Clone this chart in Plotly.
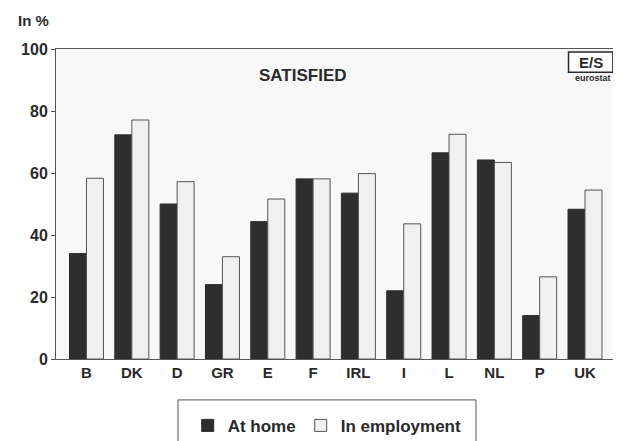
import plotly.graph_objects as go

countries = ["B", "DK", "D", "GR", "E", "F", "IRL", "I", "L", "NL", "P", "UK"]
at_home = [34, 72.3, 50, 24, 44.3, 58.1, 53.5, 22, 66.5, 64.2, 14, 48.3]
in_employment = [58.3, 77.1, 57.2, 33, 51.6, 58.1, 59.8, 43.6, 72.5, 63.4, 26.5, 54.5]
y_ticks = [0, 20, 40, 60, 80, 100]

font = "Liberation Sans, Arial, sans-serif"
ink = "#2a2a2a"

fig = go.Figure()
fig.add_trace(go.Bar(x=countries, y=at_home, name="At home",
                     marker=dict(color="#2e2e2e", line=dict(color="#2a2a2a", width=1))))
fig.add_trace(go.Bar(x=countries, y=in_employment, name="In employment",
                     marker=dict(color="#f0f0f0", line=dict(color="#555", width=1))))

# page has an 8px body margin, so the figure is 8px smaller and margins shifted
fig.update_layout(
    width=613, height=433,
    margin=dict(l=48, r=7, t=41, b=82, autoexpand=False),
    paper_bgcolor="white", plot_bgcolor="#f8f8f8",
    barmode="group", bargap=0.25, bargroupgap=0,
    font=dict(family=font, size=15, color=ink, weight="bold"),
    showlegend=True,
    legend=dict(orientation="h", x=0.486, xanchor="center",
                yref="container", y=0.035, yanchor="middle",
                borderwidth=0, bgcolor="rgba(0,0,0,0)",
                font=dict(size=17, color=ink, weight="bold"), traceorder="normal",
                itemwidth=30),
    xaxis=dict(range=[-0.673, 11.64], showline=True, linecolor="#555", linewidth=1,
               mirror=True, ticks="", tickfont=dict(size=15, color=ink, weight="bold")),
    yaxis=dict(range=[0, 100], tickvals=y_ticks, showgrid=False,
               showline=True, linecolor="#555", linewidth=1, mirror=True,
               ticks="outside", ticklen=4, tickcolor="#555",
               tickfont=dict(size=16, color=ink, weight="bold"), zeroline=False),
    shapes=[
        dict(type="rect", xref="paper", yref="paper", x0=0.2186, x1=0.7527,
             y0=-0.31, y1=-0.132, line=dict(color="#555", width=1), fillcolor="rgba(0,0,0,0)"),
        dict(type="rect", xref="paper", yref="paper", x0=0.9185, x1=0.998,
             y0=0.925, y1=0.99, line=dict(color=ink, width=1.5), fillcolor="white"),
    ],
    annotations=[
        dict(text="In %", xref="paper", yref="paper", x=-0.072, y=1.093,
             xanchor="left", yanchor="middle", showarrow=False,
             font=dict(size=15, color=ink, weight="bold")),
        dict(text="SATISFIED", xref="paper", yref="paper", x=0.4425, y=0.9135,
             xanchor="center", yanchor="middle", showarrow=False,
             font=dict(size=17, color=ink, weight="bold")),
        dict(text="E/S", xref="paper", yref="paper", x=0.958, y=0.958,
             xanchor="center", yanchor="middle", showarrow=False,
             font=dict(size=15, color=ink, weight="bold")),
        dict(text="eurostat", xref="paper", yref="paper", x=0.998, y=0.905,
             xanchor="right", yanchor="middle", showarrow=False,
             font=dict(size=9, color=ink, weight="bold")),
    ],
)

fig.write_html("out.html")
